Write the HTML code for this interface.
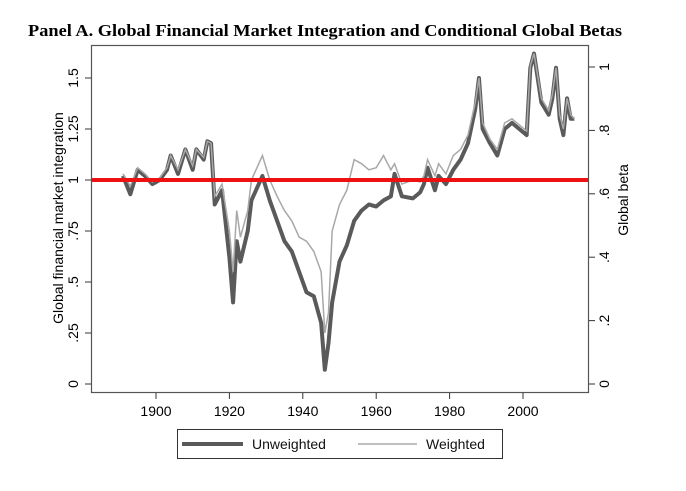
<!DOCTYPE html>
<html><head><meta charset="utf-8"><style>
html,body{margin:0;padding:0;background:#fff;}
svg text{font-family:"Liberation Sans",Arial,sans-serif;}
</style></head><body>
<svg id="chart" width="686" height="486" viewBox="0 0 686 486" xmlns="http://www.w3.org/2000/svg">
<text x="325" y="36" text-anchor="middle" textLength="594" lengthAdjust="spacingAndGlyphs" style="font-family:'Liberation Serif',serif;font-weight:bold;font-size:17px">Panel A. Global Financial Market Integration and Conditional Global Betas</text>
<rect x="91.5" y="45.5" width="497" height="347" fill="none" stroke="#555" stroke-width="1.2"/>
<g id="axes"></g>
<g id="series"></g>
<g>
<rect x="177.5" y="429.5" width="325" height="29" fill="#fff" stroke="#333" stroke-width="1"/>
<line x1="182" y1="444" x2="243" y2="444" stroke="#5a5a5a" stroke-width="4"/>
<text x="252" y="449" font-size="14" fill="#111">Unweighted</text>
<line x1="358" y1="444" x2="417" y2="444" stroke="#aaa" stroke-width="1.5"/>
<text x="426" y="449" font-size="14" fill="#111">Weighted</text>
</g>
<text transform="translate(63,218) rotate(-90)" text-anchor="middle" font-size="14">Global financial market integration</text>
<text transform="translate(628,200) rotate(-90)" text-anchor="middle" font-size="14">Global beta</text>
</svg>
<script>
const xTicks=[1900,1920,1940,1960,1980,2000];
const leftTicks=[0,0.25,0.5,0.75,1,1.25,1.5];
const leftLabels=["0",".25",".5",".75","1","1.25","1.5"];
const rightTicks=[0,0.2,0.4,0.6,0.8,1];
const rightLabels=["0",".2",".4",".6",".8","1"];
const refLevel=1;
const years=[1891,1893,1895,1897,1899,1901,1903,1904,1906,1908,1910,1911,1913,1914,1915,1916,1918,1920,1921,1922,1923,1925,1926,1928,1929,1931,1933,1935,1937,1939,1941,1943,1945,1946,1947,1948,1950,1952,1954,1956,1958,1960,1962,1964,1965,1967,1970,1972,1973,1974,1976,1977,1979,1981,1983,1985,1987,1988,1989,1991,1993,1995,1997,1999,2001,2002,2003,2005,2007,2008,2009,2010,2011,2012,2013,2014];
const unweighted=[1.02,0.93,1.05,1.02,0.98,1.00,1.05,1.12,1.03,1.15,1.05,1.15,1.10,1.19,1.18,0.88,0.95,0.62,0.40,0.70,0.60,0.75,0.90,0.98,1.02,0.90,0.80,0.70,0.65,0.55,0.45,0.43,0.30,0.07,0.20,0.40,0.60,0.68,0.80,0.85,0.88,0.87,0.90,0.92,1.03,0.92,0.91,0.94,0.98,1.06,0.95,1.02,0.98,1.05,1.10,1.18,1.35,1.50,1.25,1.18,1.12,1.25,1.28,1.25,1.22,1.55,1.62,1.38,1.32,1.40,1.55,1.30,1.22,1.40,1.30,1.30];
const weighted=[1.03,0.97,1.06,1.03,0.99,1.01,1.06,1.12,1.05,1.15,1.07,1.15,1.11,1.19,1.18,0.92,0.98,0.75,0.55,0.85,0.72,0.85,1.00,1.08,1.12,1.00,0.92,0.85,0.80,0.72,0.70,0.65,0.55,0.25,0.35,0.75,0.88,0.95,1.10,1.08,1.05,1.06,1.12,1.05,1.08,0.98,1.00,0.99,1.02,1.10,1.02,1.08,1.03,1.12,1.15,1.22,1.38,1.50,1.28,1.20,1.15,1.28,1.30,1.27,1.24,1.56,1.62,1.40,1.34,1.42,1.55,1.32,1.25,1.40,1.32,1.30];
const NS="http://www.w3.org/2000/svg";
const xS=y=>156+(y-1900)*3.67;
const yL=v=>384-v*204;
const yR=v=>384-v*317;
const axes=document.getElementById('axes');
function mk(t,a,p){const e=document.createElementNS(NS,t);for(const k in a)e.setAttribute(k,a[k]);(p||axes).appendChild(e);return e;}
xTicks.forEach(t=>{
 const l=mk('line',{x1:xS(t),x2:xS(t),y1:393,y2:399,stroke:'#333'});
 
 
 const tx=mk('text',{x:xS(t),y:416,'text-anchor':'middle','font-size':14});tx.textContent=t;
 
 
});
leftTicks.forEach((t,i)=>{
 const l=mk('line',{x1:85,x2:91,y1:yL(t),y2:yL(t),stroke:'#333'});
 
 
 const tx=mk('text',{transform:`translate(78,${yL(t)}) rotate(-90)`,'text-anchor':'middle','font-size':14});tx.textContent=leftLabels[i];
 
 
});
rightTicks.forEach((t,i)=>{
 const l=mk('line',{x1:589,x2:595,y1:yR(t),y2:yR(t),stroke:'#333'});
 
 
 const tx=mk('text',{transform:`translate(598,${yR(t)}) rotate(-90)`,'text-anchor':'middle','font-size':14,dy:'0.8em'});tx.textContent=rightLabels[i];
 
 
});
const sg=document.getElementById('series');
function pts(arr){return years.map((y,i)=>xS(y)+','+yL(arr[i])).join(' ');}
const u=mk('polyline',{points:pts(unweighted),fill:'none',stroke:'#5a5a5a','stroke-width':4,'stroke-linejoin':'round'},sg);


const w=mk('polyline',{points:pts(weighted),fill:'none',stroke:'#a8a8a8','stroke-width':1.5},sg);


const r=mk('line',{x1:92,x2:588,y1:yL(refLevel),y2:yL(refLevel),stroke:'#ee1111','stroke-width':4},sg);


</script>
</body></html>
